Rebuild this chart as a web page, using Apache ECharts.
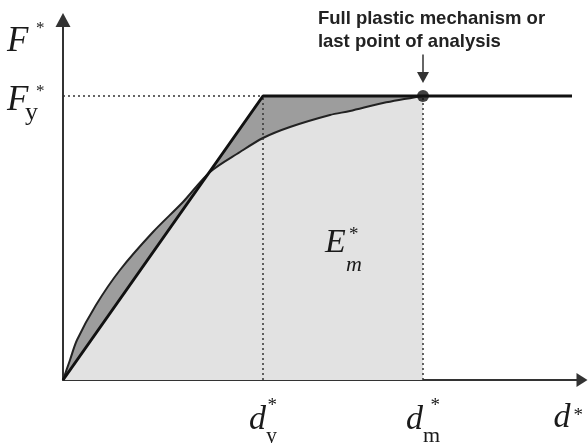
<!DOCTYPE html>
<html lang="en">
<head>
<meta charset="UTF-8">
<title>Bilinear idealisation of the capacity curve</title>
<script src="https://cdn.jsdelivr.net/npm/echarts@6/dist/echarts.min.js"></script>
<style>
    html, body { margin: 0; padding: 0; background: #fff; }
    #chart { width: 588px; height: 443px; }
</style>
</head>
<body>
<div id="chart"></div>
<script>
    // capacity curve (d*, F*), arbitrary units
    const curveD = [0, 7, 14, 33, 57, 90, 120, 147, 177, 200, 227, 267, 287, 320, 360];
    const curveF = [0, 20, 40, 75, 110, 148, 178, 208, 228, 242, 253, 265, 269, 277, 284];
    // idealised elasto-perfectly plastic system
    const bilinD = [0, 200, 509];
    const bilinF = [0, 284, 284];
    const dY = 200, dM = 360, fY = 284;
    const xMax = 519, yMax = 360;
    const xTicks = [dY, dM];
    const xSubs = ['y', 'm'];
    const calloutText = ['Full plastic mechanism or', 'last point of analysis'];
    const arrowFrom = 325.5, arrowTo = 302.5;
    const emPos = [280.5, 126.4];

    const DARK = '#9d9d9d';
    const LIGHT = '#e2e2e2';
    const INK = '#1a1a1a';
    const SERIF = 'Liberation Serif';

    function bilinAt(d) { return d < dY ? fY * d / dY : fY; }

    const curve = curveD.map((d, i) => [d, curveF[i]]);
    const bilin = bilinD.map((d, i) => [d, bilinF[i]]);
    const bilinToM = [[0, 0], [dY, fY], [dM, fY]];
    // light area = under the lower of the two curves
    const envelope = curveD.map((d, i) => [d, Math.min(curveF[i], bilinAt(d))]);

    const ast = (size, extra) => Object.assign({ fontFamily: SERIF, fontSize: size, color: INK }, extra);
    const dotted = { color: '#333', width: 1.5, type: [2, 3] };

    const chart = echarts.init(document.getElementById('chart'));
    chart.setOption({
        animation: false,
        grid: { left: 63, right: 6, top: 20, bottom: 63, containLabel: false, outerBoundsMode: 'none' },
        xAxis: {
            type: 'value', min: 0, max: xMax,
            axisLine: { show: true, onZero: false, symbol: ['none', 'triangle'], symbolSize: [14, 11],
                lineStyle: { color: '#333', width: 2 } },
            axisTick: { show: false },
            splitLine: { show: false },
            axisLabel: {
                customValues: xTicks,
                margin: 25,
                formatter: v => '{ast|*}\n{d|d}{sub|' + xSubs[xTicks.indexOf(v)] + '}',
                rich: {
                    ast: ast(19, { lineHeight: 2, align: 'right', verticalAlign: 'middle' }),
                    d: ast(34, { fontStyle: 'italic', lineHeight: 27, height: 27, verticalAlign: 'top', align: 'left' }),
                    sub: ast(22, { lineHeight: 58, height: 58, verticalAlign: 'top', align: 'left' })
                }
            },
            name: '{d|d}{ast|*}',
            nameLocation: 'end',
            nameGap: -28.5,
            nameMoveOverlap: false,
            nameTextStyle: {
                align: 'left', verticalAlign: 'top', padding: [23.5, 0, 0, 0],
                rich: {
                    d: ast(34, { fontStyle: 'italic', lineHeight: 30, height: 30, verticalAlign: 'top', align: 'left' }),
                    ast: ast(19, { lineHeight: 25.2, height: 25.2, verticalAlign: 'top', align: 'left', padding: [0, 0, 0, 3] })
                }
            }
        },
        yAxis: {
            type: 'value', min: 0, max: yMax,
            axisLine: { show: true, onZero: false, symbol: ['none', 'triangle'], symbolSize: [15, 14],
                lineStyle: { color: '#333', width: 2 } },
            axisTick: { show: false },
            splitLine: { show: false },
            axisLabel: {
                customValues: [fY],
                margin: 18.5,
                align: 'right',
                verticalAlign: 'middle',
                padding: [15.6, 0, 0, 0],
                formatter: () => '{ast|*}\n{F|F}\n{sub|y}',
                rich: {
                    ast: ast(17, { lineHeight: 2, align: 'right', verticalAlign: 'middle', padding: [0, 0, 0, 29] }),
                    F: ast(35, { fontStyle: 'italic', lineHeight: 16.8, align: 'left', verticalAlign: 'middle' }),
                    sub: ast(26, { lineHeight: 7.2, align: 'left', verticalAlign: 'middle', padding: [0, 0, 0, 18] })
                }
            },
            name: '{ast|*}\n{F|F}',
            nameLocation: 'end',
            nameGap: -21.2,
            nameMoveOverlap: false,
            nameTextStyle: {
                align: 'right', verticalAlign: 'middle', padding: [0, 18.5, 0, 0],
                rich: {
                    ast: ast(17, { lineHeight: 2, align: 'right', verticalAlign: 'middle', padding: [0, 0, 0, 29] }),
                    F: ast(35, { fontStyle: 'italic', lineHeight: 24.8, align: 'left', verticalAlign: 'middle' })
                }
            }
        },
        series: [
            {
                // area between bilinear system and the axis, up to d*m
                type: 'line', data: bilinToM, symbol: 'none', silent: true, z: 1,
                lineStyle: { width: 0 }, areaStyle: { color: DARK, opacity: 1 }
            },
            {
                type: 'line', data: curve, smooth: 0.3, symbol: 'none', silent: true, z: 1,
                lineStyle: { width: 0 }, areaStyle: { color: DARK, opacity: 1 }
            },
            {
                type: 'line', data: envelope, smooth: 0.3, symbol: 'none', silent: true, z: 2,
                lineStyle: { width: 0 }, areaStyle: { color: LIGHT, opacity: 1 }
            },
            {
                // dotted guides
                type: 'line', data: [], z: 3, silent: true,
                markLine: {
                    silent: true, symbol: ['none', 'none'], label: { show: false },
                    lineStyle: dotted,
                    data: [
                        [{ coord: [0, fY] }, { coord: [dY, fY] }],
                        [{ coord: [dY, 0] }, { coord: [dY, fY] }],
                        [{ coord: [dM, 0] }, { coord: [dM, fY] }]
                    ]
                }
            },
            {
                type: 'line', data: curve, smooth: 0.3, symbol: 'none', z: 4,
                lineStyle: { color: '#222', width: 2 }
            },
            {
                type: 'line', data: bilin, symbol: 'none', z: 5,
                lineStyle: { color: '#111', width: 3 }
            },
            {
                type: 'scatter', data: [[dM, fY]], symbol: 'circle', symbolSize: 12, z: 6,
                itemStyle: { color: '#111' },
                markLine: {
                    silent: true,
                    symbol: ['none', 'triangle'],
                    symbolSize: [12, 11],
                    lineStyle: { color: '#333', width: 1.5, type: 'solid' },
                    label: {
                        show: true, position: 'start', distance: 1,
                        padding: [0, 0, 0, 17],
                        formatter: calloutText.map(t => '{t|' + t + '}').join('\n'),
                        rich: {
                            t: { fontFamily: 'Liberation Sans', fontSize: 18.5, fontWeight: 'bold', lineHeight: 23,
                                color: '#222', align: 'left' }
                        }
                    },
                    data: [[{ coord: [dM, arrowFrom] }, { coord: [dM, arrowTo] }]]
                },
                markPoint: {
                    silent: true, symbol: 'circle', symbolSize: 0,
                    label: {
                        show: true, position: 'inside',
                        formatter: '{E|E}{ast|*}\n{m|m}',
                        rich: {
                            E: ast(34, { fontStyle: 'italic', lineHeight: 24, height: 24, verticalAlign: 'top', align: 'left' }),
                            ast: ast(19, { lineHeight: 7.2, height: 7.2, verticalAlign: 'top', align: 'left', padding: [0, 3.5, 0, 3.2] }),
                            m: ast(22, { fontStyle: 'italic', lineHeight: 20.2, verticalAlign: 'middle', align: 'right' })
                        }
                    },
                    data: [{ coord: emPos }]
                }
            }
        ]
    });
</script>
</body>
</html>
